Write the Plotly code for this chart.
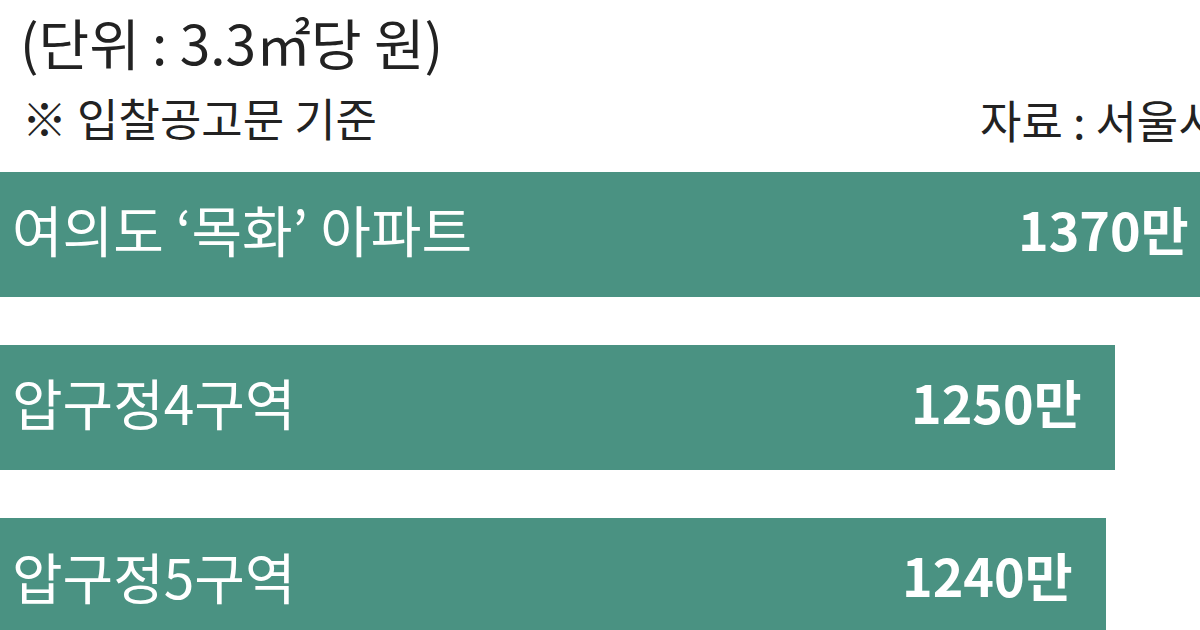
import plotly.graph_objects as go

# data
projects = ["여의도 ‘목화’ 아파트", "압구정4구역", "압구정5구역"]
prices = [1370, 1250, 1240]          # 만원 per 3.3㎡
value_labels = ["1370만", "1250만", "1240만"]

unit_note = "(단위 : 3.3㎡당 원)"
basis_note = "※ 입찰공고문 기준"
source_note = "자료 : 서울시"

BAR_COLOR = "#4a9282"
FONT = "Noto Sans CJK KR"
VIEW_W, H = 1200, 630
# the first bar runs past the right edge of the picture, so the figure is
# drawn wider than the window and the overflow is hidden
W = 1260
PX_PER_UNIT = 0.892

fig = go.Figure()

fig.add_trace(go.Bar(
    x=prices,
    y=projects,
    orientation="h",
    width=0.723,
    marker=dict(color=BAR_COLOR, line=dict(width=0)),
    hoverinfo="skip",
    showlegend=False,
))

# category names inside the bars, on the left
for name in projects:
    fig.add_annotation(
        x=0, y=name, xref="x", yref="y",
        text=name, showarrow=False,
        xanchor="left", xshift=10, yshift=6,
        font=dict(family=FONT, size=55, color="white"),
    )

# values inside the bars, at the right end
for name, val, lab in zip(projects, prices, value_labels):
    fig.add_annotation(
        x=val, y=name, xref="x", yref="y",
        text="<b>" + lab + "</b>", showarrow=False,
        xanchor="right", xshift=-31, yshift=6,
        font=dict(family=FONT, size=52, color="white"),
    )

# header notes
fig.add_annotation(
    x=18 / W, y=1 - 41 / H, xref="paper", yref="paper",
    text=unit_note, showarrow=False, xanchor="left", yanchor="middle",
    font=dict(family=FONT, size=55, color="#222222"),
)
fig.add_annotation(
    x=20 / W, y=1 - 117 / H, xref="paper", yref="paper",
    text=basis_note, showarrow=False, xanchor="left", yanchor="middle",
    font=dict(family=FONT, size=45, color="#222222"),
)
fig.add_annotation(
    x=978 / W, y=1 - 119 / H, xref="paper", yref="paper",
    text=source_note, showarrow=False, xanchor="left", yanchor="middle",
    font=dict(family=FONT, size=45, color="#222222"),
)

fig.update_layout(
    width=W,
    height=H,
    margin=dict(l=0, r=0, t=0, b=0),
    paper_bgcolor="white",
    plot_bgcolor="white",
    bargap=0,
    xaxis=dict(range=[0, W / PX_PER_UNIT], visible=False, fixedrange=True),
    yaxis=dict(
        type="category",
        categoryarray=projects,
        range=[2.286, -1.355],
        visible=False,
        fixedrange=True,
    ),
)

fig.write_html(
    "out.html",
    config={"displayModeBar": False},
    post_script="document.body.style.margin='0';document.body.style.overflow='hidden';",
)
